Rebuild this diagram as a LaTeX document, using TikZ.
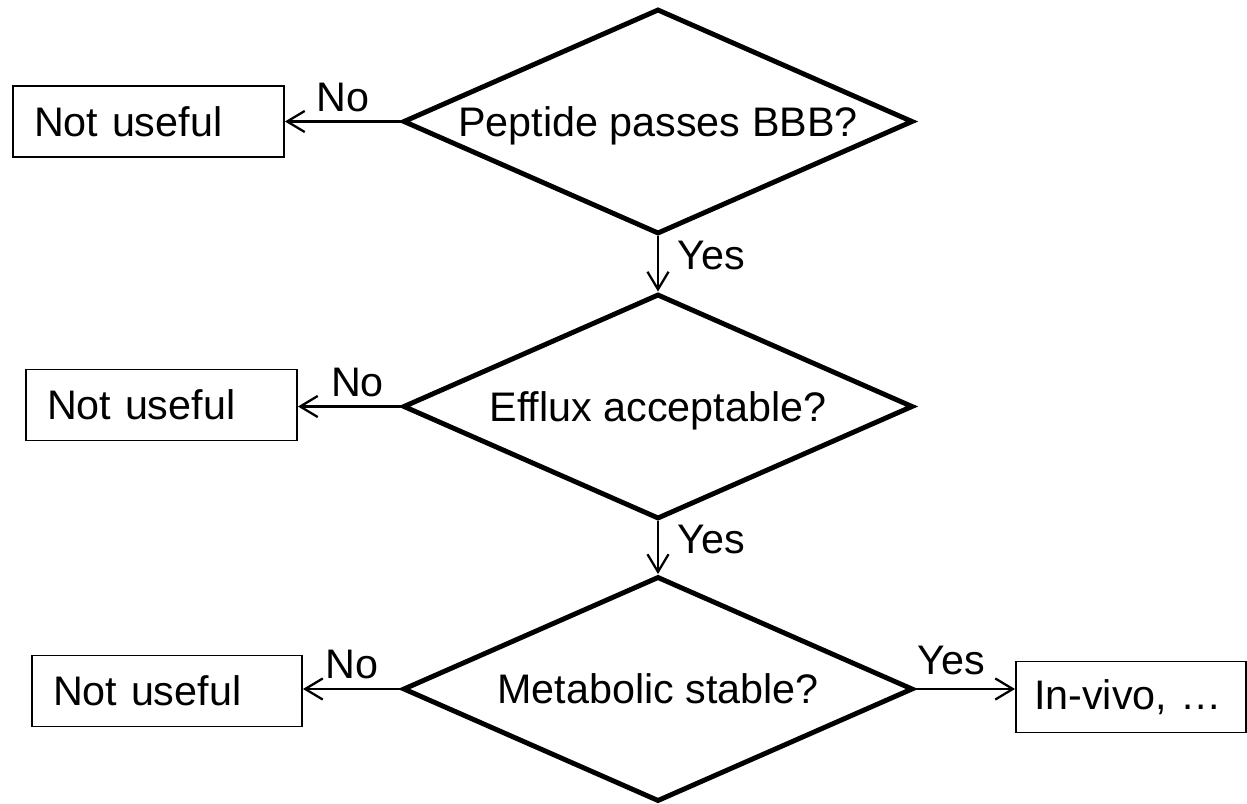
\documentclass[tikz,border=0pt]{standalone}
\usepackage{fontspec}
\setmainfont{Liberation Sans}
\usetikzlibrary{shapes.geometric,arrows.meta,positioning}

\begin{document}
\begin{tikzpicture}[
	>={Straight Barb[length=10pt,width=12pt]},
	question/.style={diamond,draw,line width=2.8pt,shape aspect=2.27,minimum width=10.2cm,minimum height=4.5cm,inner sep=0pt,text depth=0pt},
	outcome/.style={rectangle,draw,line width=1.1pt,inner xsep=0.42cm,align=left,minimum height=1.42cm},
	link/.style={line width=1.3pt,->},
	answer/.style={inner sep=5pt},
	font=\fontsize{23.5}{28}\selectfont
]
	\useasboundingbox (0,0) rectangle (24.94,-16.08);
	% the three questions
	\node[question] (bbb) at (13.16,-2.43) {Peptide passes BBB?};
	\node[question] (efflux) at (13.16,-8.13) {Efflux acceptable?};
	\node[question] (metab) at (13.16,-13.78) {Metabolic stable?};
	% outcomes
	\node[outcome,text width=4.58cm] (useless1) at (2.97,-2.43) {Not useful};
	\node[outcome,text width=4.58cm] (useless2) at (3.23,-8.1) {Not useful};
	\node[outcome,text width=4.56cm] (useless3) at (3.34,-13.82) {Not useful};
	\node[outcome,inner xsep=0.36cm,text width=3.88cm] (invivo) at (22.62,-13.94) {In-vivo, …};
	% answers
	\draw[link] (bbb.west) -- node[answer,above] {No} (bbb.west -| useless1.east);
	\draw[link] (efflux.west) -- node[answer,above,pos=0.42] {No} (efflux.west -| useless2.east);
	\draw[link] (metab.west) -- node[answer,above] {No} (metab.west -| useless3.east);
	\draw[link] (bbb.south) -- node[answer,right=0.2cm,pos=0.35] {Yes} (efflux.north);
	\draw[link] (efflux.south) -- node[answer,right=0.2cm,pos=0.35] {Yes} (metab.north);
	\draw[link] (metab.east) -- node[answer,above=0.08cm,pos=0.36] {Yes} (metab.east -| invivo.west);
\end{tikzpicture}
\end{document}
